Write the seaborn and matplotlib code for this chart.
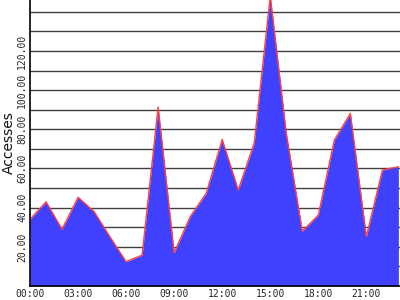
import matplotlib
matplotlib.use("Agg")
import matplotlib.pyplot as plt
import seaborn as sns
import pandas as pd

hours = list(range(24))
accesses = [34, 43, 29, 45.3, 38, 25, 12.4, 15.8, 91.3, 17, 35.4, 47.3,
            74.8, 49, 73, 148, 78, 28, 36.2, 74.5, 88.1, 25.2, 59.2, 60.9]
xtick_pos = [0, 3, 6, 9, 12, 15, 18, 21]
xtick_labels = ["00:00", "03:00", "06:00", "09:00", "12:00", "15:00", "18:00", "21:00"]
ytick_pos = [20, 40, 60, 80, 100, 120]
grid_levels = [10, 20, 30, 40, 50, 60, 70, 80, 90, 100, 110, 120, 130, 140]

df = pd.DataFrame({"hour": hours, "accesses": accesses})

sns.set_style("white")
fig = plt.figure(figsize=(4, 3), dpi=100)
ax = fig.add_axes([30 / 400, 14 / 300, 370 / 400, 286 / 300])

for g in grid_levels:
    ax.axhline(g, color="#404040", lw=1.0, zorder=1)

ax.fill_between(df["hour"], df["accesses"], 0, color="#4040ff", lw=0, zorder=2)
sns.lineplot(data=df, x="hour", y="accesses", color="#ff4040", lw=1.0, ax=ax, zorder=3)

ax.set_xlim(0, 23.1)
ax.set_ylim(0, 146)
ax.set_xticks(xtick_pos)
ax.set_xticklabels(xtick_labels, family="DejaVu Sans Mono", fontsize=7)
ax.set_yticks(ytick_pos)
ax.set_yticklabels([f"{v:.2f}" for v in ytick_pos], family="DejaVu Sans Mono",
                   fontsize=7, rotation=90, va="center")
ax.tick_params(axis="both", length=0, pad=2)
ax.set_xlabel("")
ax.set_ylabel("Accesses", fontsize=10, labelpad=1, color="#111111")
for s in ["top", "right"]:
    ax.spines[s].set_visible(False)
for s in ["left", "bottom"]:
    ax.spines[s].set_color("black")
    ax.spines[s].set_linewidth(1.2)
    ax.spines[s].set_zorder(5)

fig.savefig("out.png", dpi=100)
